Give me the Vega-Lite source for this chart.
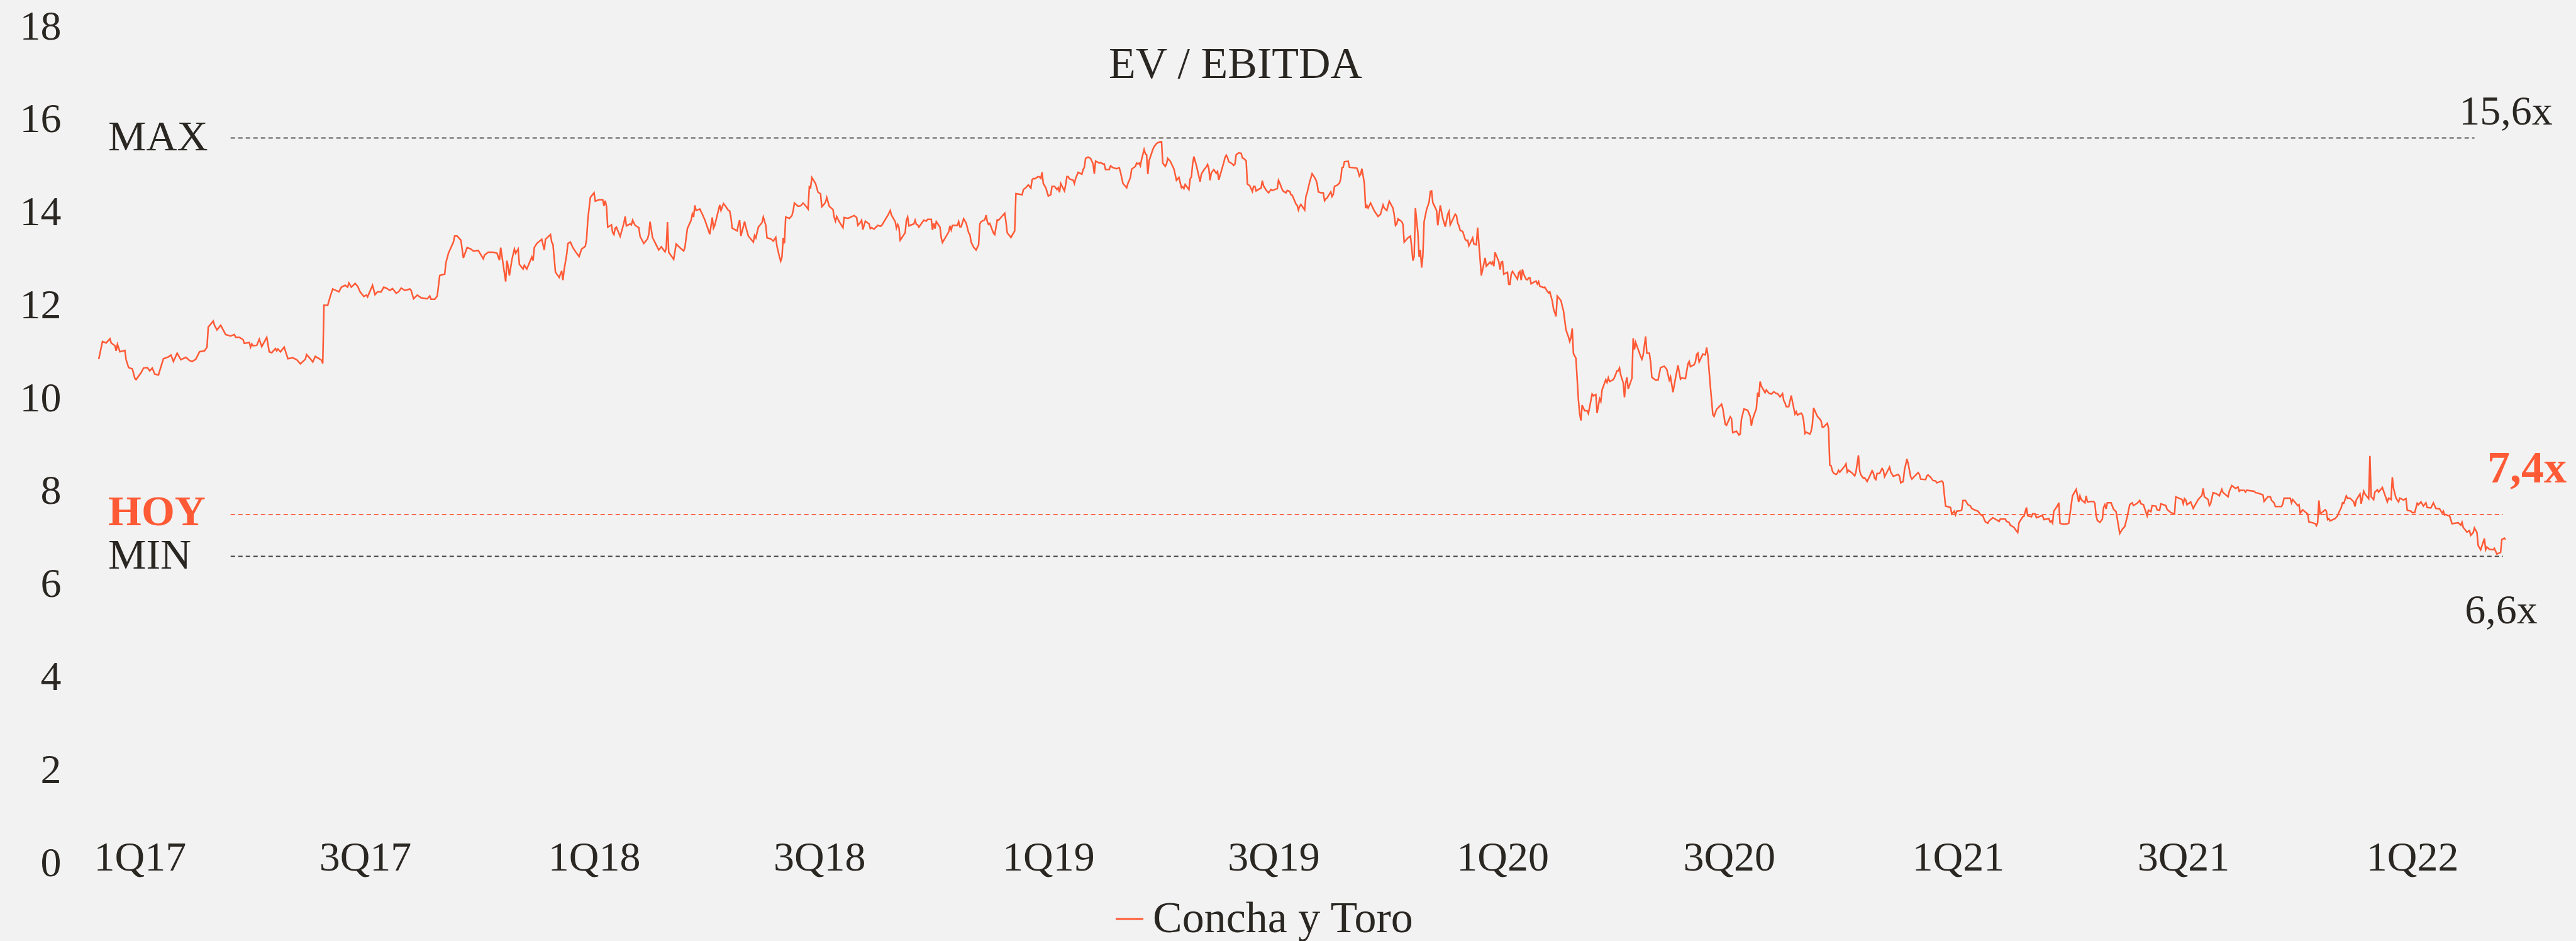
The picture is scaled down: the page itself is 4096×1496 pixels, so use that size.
{
  "$schema": "https://vega.github.io/schema/vega-lite/v6.json",
  "width": 3827,
  "height": 1330,
  "autosize": {"type": "none"},
  "padding": {"left": 157, "top": 42, "right": 112, "bottom": 124},
  "background": "#F2F2F2",
  "config": {"view": {"stroke": null}, "text": {"font": "Liberation Serif"}},
  "title": {"text": "EV / EBITDA", "anchor": "middle", "frame": "group", "baseline": "middle", "offset": -56, "dy": 108, "dx": -106, "fontSize": 70, "font": "Liberation Serif", "fontWeight": "normal", "color": "#2A2723"},
  "datasets": {
    "refs": [
      {"name": "MAX", "tag": "15,6x", "value": 15.6, "start": "2017-03-15", "end": "2022-02-20"},
      {"name": "HOY", "tag": "7,4x", "value": 7.5, "start": "2017-03-15", "end": "2022-03-15"},
      {"name": "MIN", "tag": "6,6x", "value": 6.6, "start": "2017-03-15", "end": "2022-03-15"}
    ],
    "series": [
{"date":"2016-11-29","value":10.84},{"date":"2016-12-02","value":11.22},{"date":"2016-12-05","value":11.19},{"date":"2016-12-08","value":11.28},{"date":"2016-12-09","value":11.19},{"date":"2016-12-12","value":11.13},{"date":"2016-12-13","value":11.02},{"date":"2016-12-14","value":11.16},{"date":"2016-12-16","value":11.00},{"date":"2016-12-20","value":11.03},{"date":"2016-12-21","value":10.83},{"date":"2016-12-23","value":10.66},{"date":"2016-12-26","value":10.63},{"date":"2016-12-28","value":10.43},{"date":"2016-12-29","value":10.40},
{"date":"2017-01-02","value":10.55},{"date":"2017-01-04","value":10.65},{"date":"2017-01-07","value":10.66},{"date":"2017-01-09","value":10.59},{"date":"2017-01-11","value":10.65},{"date":"2017-01-13","value":10.52},{"date":"2017-01-16","value":10.50},{"date":"2017-01-18","value":10.68},{"date":"2017-01-20","value":10.85},{"date":"2017-01-24","value":10.89},{"date":"2017-01-26","value":10.93},{"date":"2017-01-28","value":10.79},{"date":"2017-01-31","value":10.97},
{"date":"2017-02-03","value":10.83},{"date":"2017-02-07","value":10.88},{"date":"2017-02-10","value":10.81},{"date":"2017-02-12","value":10.79},{"date":"2017-02-15","value":10.84},{"date":"2017-02-18","value":11.00},{"date":"2017-02-22","value":11.02},{"date":"2017-02-24","value":11.10},{"date":"2017-02-25","value":11.53},
{"date":"2017-03-01","value":11.66},{"date":"2017-03-02","value":11.57},{"date":"2017-03-04","value":11.47},{"date":"2017-03-07","value":11.57},{"date":"2017-03-11","value":11.37},{"date":"2017-03-15","value":11.34},{"date":"2017-03-18","value":11.37},{"date":"2017-03-19","value":11.31},{"date":"2017-03-22","value":11.31},{"date":"2017-03-25","value":11.26},{"date":"2017-03-26","value":11.18},{"date":"2017-03-30","value":11.20},{"date":"2017-03-31","value":11.10},
{"date":"2017-04-01","value":11.17},{"date":"2017-04-02","value":11.13},{"date":"2017-04-05","value":11.14},{"date":"2017-04-07","value":11.27},{"date":"2017-04-09","value":11.11},{"date":"2017-04-13","value":11.31},{"date":"2017-04-15","value":11.00},{"date":"2017-04-17","value":10.98},{"date":"2017-04-20","value":11.07},{"date":"2017-04-21","value":11.02},{"date":"2017-04-22","value":11.06},{"date":"2017-04-24","value":11.00},{"date":"2017-04-27","value":11.10},{"date":"2017-04-30","value":10.85},
{"date":"2017-05-04","value":10.87},{"date":"2017-05-07","value":10.83},{"date":"2017-05-10","value":10.74},{"date":"2017-05-14","value":10.84},{"date":"2017-05-15","value":10.94},{"date":"2017-05-18","value":10.85},{"date":"2017-05-20","value":10.78},{"date":"2017-05-22","value":10.90},{"date":"2017-05-27","value":10.82},{"date":"2017-05-28","value":10.75},{"date":"2017-05-29","value":12.00},
{"date":"2017-06-01","value":12.00},{"date":"2017-06-03","value":12.19},{"date":"2017-06-05","value":12.35},{"date":"2017-06-10","value":12.29},{"date":"2017-06-12","value":12.39},{"date":"2017-06-15","value":12.43},{"date":"2017-06-17","value":12.39},{"date":"2017-06-18","value":12.48},{"date":"2017-06-20","value":12.39},{"date":"2017-06-23","value":12.47},{"date":"2017-06-25","value":12.41},{"date":"2017-06-27","value":12.29},{"date":"2017-06-30","value":12.19},
{"date":"2017-07-02","value":12.22},{"date":"2017-07-03","value":12.18},{"date":"2017-07-07","value":12.43},{"date":"2017-07-09","value":12.23},{"date":"2017-07-11","value":12.29},{"date":"2017-07-14","value":12.29},{"date":"2017-07-16","value":12.39},{"date":"2017-07-18","value":12.37},{"date":"2017-07-21","value":12.32},{"date":"2017-07-23","value":12.36},{"date":"2017-07-26","value":12.26},{"date":"2017-07-28","value":12.29},{"date":"2017-07-30","value":12.37},
{"date":"2017-08-02","value":12.32},{"date":"2017-08-06","value":12.35},{"date":"2017-08-07","value":12.32},{"date":"2017-08-09","value":12.14},{"date":"2017-08-12","value":12.22},{"date":"2017-08-15","value":12.16},{"date":"2017-08-20","value":12.14},{"date":"2017-08-22","value":12.20},{"date":"2017-08-23","value":12.13},{"date":"2017-08-26","value":12.13},{"date":"2017-08-28","value":12.20},{"date":"2017-08-30","value":12.64},
{"date":"2017-09-03","value":12.67},{"date":"2017-09-04","value":12.92},{"date":"2017-09-06","value":13.12},{"date":"2017-09-10","value":13.36},{"date":"2017-09-11","value":13.49},{"date":"2017-09-13","value":13.49},{"date":"2017-09-16","value":13.40},{"date":"2017-09-18","value":13.02},{"date":"2017-09-21","value":13.24},{"date":"2017-09-24","value":13.21},{"date":"2017-09-26","value":13.17},{"date":"2017-09-30","value":13.18},
{"date":"2017-10-04","value":13.00},{"date":"2017-10-05","value":13.08},{"date":"2017-10-08","value":13.14},{"date":"2017-10-12","value":13.14},{"date":"2017-10-15","value":13.12},{"date":"2017-10-17","value":12.97},{"date":"2017-10-18","value":13.24},{"date":"2017-10-22","value":12.51},{"date":"2017-10-23","value":12.96},{"date":"2017-10-24","value":12.83},{"date":"2017-10-25","value":12.64},{"date":"2017-10-27","value":12.98},{"date":"2017-10-29","value":13.21},{"date":"2017-10-30","value":13.12},
{"date":"2017-11-01","value":13.21},{"date":"2017-11-02","value":12.88},{"date":"2017-11-05","value":12.78},{"date":"2017-11-06","value":12.86},{"date":"2017-11-08","value":12.78},{"date":"2017-11-12","value":13.04},{"date":"2017-11-13","value":12.96},{"date":"2017-11-14","value":13.24},{"date":"2017-11-16","value":13.33},{"date":"2017-11-20","value":13.42},{"date":"2017-11-22","value":13.19},{"date":"2017-11-23","value":13.42},{"date":"2017-11-27","value":13.52},{"date":"2017-11-28","value":13.36},{"date":"2017-11-29","value":13.31},
{"date":"2017-12-01","value":12.71},{"date":"2017-12-04","value":12.60},{"date":"2017-12-06","value":12.74},{"date":"2017-12-07","value":12.54},{"date":"2017-12-08","value":12.77},{"date":"2017-12-10","value":13.09},{"date":"2017-12-11","value":13.33},{"date":"2017-12-13","value":13.36},{"date":"2017-12-15","value":13.24},{"date":"2017-12-18","value":13.12},{"date":"2017-12-20","value":13.05},{"date":"2017-12-22","value":13.21},{"date":"2017-12-25","value":13.27},{"date":"2017-12-26","value":13.42},{"date":"2017-12-27","value":13.84},{"date":"2017-12-29","value":14.32},
{"date":"2018-01-01","value":14.42},{"date":"2018-01-02","value":14.24},{"date":"2018-01-05","value":14.27},{"date":"2018-01-08","value":14.27},{"date":"2018-01-09","value":14.14},{"date":"2018-01-10","value":14.25},{"date":"2018-01-11","value":14.13},{"date":"2018-01-12","value":13.68},{"date":"2018-01-15","value":13.73},{"date":"2018-01-16","value":13.56},{"date":"2018-01-17","value":13.52},{"date":"2018-01-18","value":13.66},{"date":"2018-01-19","value":13.68},{"date":"2018-01-22","value":13.48},{"date":"2018-01-25","value":13.77},{"date":"2018-01-26","value":13.91},{"date":"2018-01-27","value":13.71},{"date":"2018-01-30","value":13.75},{"date":"2018-01-31","value":13.73},
{"date":"2018-02-01","value":13.83},{"date":"2018-02-03","value":13.72},{"date":"2018-02-06","value":13.67},{"date":"2018-02-07","value":13.48},{"date":"2018-02-10","value":13.33},{"date":"2018-02-13","value":13.43},{"date":"2018-02-14","value":13.53},{"date":"2018-02-15","value":13.80},{"date":"2018-02-17","value":13.46},{"date":"2018-02-19","value":13.35},{"date":"2018-02-22","value":13.19},{"date":"2018-02-24","value":13.26},{"date":"2018-02-27","value":13.15},{"date":"2018-02-28","value":13.23},
{"date":"2018-03-01","value":13.79},{"date":"2018-03-02","value":13.14},{"date":"2018-03-06","value":12.99},{"date":"2018-03-08","value":13.32},{"date":"2018-03-11","value":13.24},{"date":"2018-03-14","value":13.17},{"date":"2018-03-15","value":13.24},{"date":"2018-03-17","value":13.65},{"date":"2018-03-20","value":13.83},{"date":"2018-03-21","value":13.97},{"date":"2018-03-22","value":13.90},{"date":"2018-03-23","value":14.15},{"date":"2018-03-24","value":14.04},{"date":"2018-03-27","value":14.07},{"date":"2018-03-29","value":13.96},{"date":"2018-03-31","value":13.84},
{"date":"2018-04-04","value":13.53},{"date":"2018-04-06","value":13.89},{"date":"2018-04-07","value":13.66},{"date":"2018-04-08","value":13.72},{"date":"2018-04-12","value":14.16},{"date":"2018-04-13","value":14.04},{"date":"2018-04-15","value":14.19},{"date":"2018-04-17","value":14.12},{"date":"2018-04-19","value":14.04},{"date":"2018-04-20","value":14.03},{"date":"2018-04-21","value":13.89},{"date":"2018-04-22","value":13.66},{"date":"2018-04-26","value":13.60},{"date":"2018-04-27","value":13.74},{"date":"2018-04-28","value":13.83},{"date":"2018-04-29","value":13.49},
{"date":"2018-05-02","value":13.80},{"date":"2018-05-03","value":13.68},{"date":"2018-05-05","value":13.49},{"date":"2018-05-09","value":13.36},{"date":"2018-05-10","value":13.50},{"date":"2018-05-11","value":13.45},{"date":"2018-05-13","value":13.68},{"date":"2018-05-16","value":13.78},{"date":"2018-05-17","value":13.90},{"date":"2018-05-19","value":13.72},{"date":"2018-05-20","value":13.45},{"date":"2018-05-23","value":13.43},{"date":"2018-05-25","value":13.38},{"date":"2018-05-27","value":13.46},{"date":"2018-05-28","value":13.27},{"date":"2018-05-30","value":13.04},{"date":"2018-05-31","value":12.95},
{"date":"2018-06-01","value":13.04},{"date":"2018-06-02","value":13.45},{"date":"2018-06-03","value":13.33},{"date":"2018-06-04","value":13.90},{"date":"2018-06-07","value":13.87},{"date":"2018-06-09","value":13.93},{"date":"2018-06-10","value":14.03},{"date":"2018-06-11","value":14.20},{"date":"2018-06-14","value":14.13},{"date":"2018-06-16","value":14.14},{"date":"2018-06-18","value":14.20},{"date":"2018-06-20","value":14.14},{"date":"2018-06-22","value":14.07},{"date":"2018-06-23","value":14.55},{"date":"2018-06-24","value":14.53},{"date":"2018-06-25","value":14.75},{"date":"2018-06-28","value":14.62},{"date":"2018-06-30","value":14.43},
{"date":"2018-07-02","value":14.40},{"date":"2018-07-03","value":14.12},{"date":"2018-07-05","value":14.18},{"date":"2018-07-06","value":14.22},{"date":"2018-07-07","value":14.32},{"date":"2018-07-09","value":14.13},{"date":"2018-07-12","value":14.06},{"date":"2018-07-13","value":13.89},{"date":"2018-07-14","value":13.81},{"date":"2018-07-15","value":13.91},{"date":"2018-07-17","value":13.80},{"date":"2018-07-20","value":13.67},{"date":"2018-07-21","value":13.89},{"date":"2018-07-24","value":13.87},{"date":"2018-07-29","value":13.93},{"date":"2018-07-31","value":13.89},
{"date":"2018-08-01","value":13.72},{"date":"2018-08-03","value":13.78},{"date":"2018-08-04","value":13.83},{"date":"2018-08-05","value":13.63},{"date":"2018-08-07","value":13.81},{"date":"2018-08-10","value":13.75},{"date":"2018-08-11","value":13.65},{"date":"2018-08-12","value":13.67},{"date":"2018-08-14","value":13.64},{"date":"2018-08-17","value":13.72},{"date":"2018-08-19","value":13.70},{"date":"2018-08-20","value":13.71},{"date":"2018-08-22","value":13.80},{"date":"2018-08-25","value":13.93},{"date":"2018-08-27","value":14.04},{"date":"2018-08-28","value":13.94},{"date":"2018-08-31","value":13.80},
{"date":"2018-09-01","value":13.66},{"date":"2018-09-02","value":13.74},{"date":"2018-09-03","value":13.68},{"date":"2018-09-04","value":13.40},{"date":"2018-09-08","value":13.56},{"date":"2018-09-09","value":13.83},{"date":"2018-09-10","value":13.90},{"date":"2018-09-11","value":13.71},{"date":"2018-09-15","value":13.75},{"date":"2018-09-16","value":13.83},{"date":"2018-09-17","value":13.74},{"date":"2018-09-18","value":13.73},{"date":"2018-09-19","value":13.68},{"date":"2018-09-23","value":13.83},{"date":"2018-09-25","value":13.81},{"date":"2018-09-26","value":13.85},{"date":"2018-09-29","value":13.85},{"date":"2018-09-30","value":13.62},
{"date":"2018-10-01","value":13.76},{"date":"2018-10-02","value":13.65},{"date":"2018-10-03","value":13.80},{"date":"2018-10-06","value":13.68},{"date":"2018-10-07","value":13.45},{"date":"2018-10-08","value":13.35},{"date":"2018-10-13","value":13.58},{"date":"2018-10-14","value":13.71},{"date":"2018-10-15","value":13.62},{"date":"2018-10-16","value":13.72},{"date":"2018-10-20","value":13.72},{"date":"2018-10-21","value":13.80},{"date":"2018-10-22","value":13.69},{"date":"2018-10-23","value":13.69},{"date":"2018-10-25","value":13.86},{"date":"2018-10-27","value":13.77},{"date":"2018-10-29","value":13.56},{"date":"2018-10-30","value":13.52},{"date":"2018-10-31","value":13.36},
{"date":"2018-11-02","value":13.25},{"date":"2018-11-04","value":13.19},{"date":"2018-11-06","value":13.30},{"date":"2018-11-07","value":13.75},{"date":"2018-11-08","value":13.80},{"date":"2018-11-11","value":13.84},{"date":"2018-11-12","value":13.94},{"date":"2018-11-13","value":13.80},{"date":"2018-11-14","value":13.74},{"date":"2018-11-15","value":13.76},{"date":"2018-11-18","value":13.55},{"date":"2018-11-19","value":13.52},{"date":"2018-11-21","value":13.84},{"date":"2018-11-22","value":13.83},{"date":"2018-11-27","value":13.98},{"date":"2018-11-28","value":13.80},{"date":"2018-11-29","value":13.56},
{"date":"2018-12-02","value":13.46},{"date":"2018-12-05","value":13.60},{"date":"2018-12-06","value":14.40},{"date":"2018-12-11","value":14.38},{"date":"2018-12-12","value":14.49},{"date":"2018-12-14","value":14.53},{"date":"2018-12-16","value":14.59},{"date":"2018-12-18","value":14.52},{"date":"2018-12-19","value":14.70},{"date":"2018-12-20","value":14.73},{"date":"2018-12-21","value":14.72},{"date":"2018-12-24","value":14.77},{"date":"2018-12-25","value":14.76},{"date":"2018-12-26","value":14.73},{"date":"2018-12-27","value":14.86},{"date":"2018-12-28","value":14.62},{"date":"2018-12-30","value":14.53},
{"date":"2019-01-01","value":14.35},{"date":"2019-01-03","value":14.38},{"date":"2019-01-04","value":14.56},{"date":"2019-01-06","value":14.56},{"date":"2019-01-08","value":14.49},{"date":"2019-01-09","value":14.53},{"date":"2019-01-10","value":14.43},{"date":"2019-01-11","value":14.62},{"date":"2019-01-14","value":14.46},{"date":"2019-01-15","value":14.60},{"date":"2019-01-16","value":14.77},{"date":"2019-01-17","value":14.77},{"date":"2019-01-18","value":14.72},{"date":"2019-01-21","value":14.69},{"date":"2019-01-22","value":14.62},{"date":"2019-01-23","value":14.73},{"date":"2019-01-25","value":14.86},{"date":"2019-01-28","value":14.82},{"date":"2019-01-29","value":14.92},{"date":"2019-01-30","value":14.97},{"date":"2019-01-31","value":15.16},
{"date":"2019-02-02","value":15.19},{"date":"2019-02-04","value":15.16},{"date":"2019-02-06","value":15.04},{"date":"2019-02-07","value":14.83},{"date":"2019-02-08","value":15.10},{"date":"2019-02-11","value":15.06},{"date":"2019-02-12","value":15.07},{"date":"2019-02-14","value":15.04},{"date":"2019-02-15","value":15.04},{"date":"2019-02-16","value":14.92},{"date":"2019-02-19","value":14.92},{"date":"2019-02-20","value":15.00},{"date":"2019-02-22","value":14.96},{"date":"2019-02-25","value":14.94},{"date":"2019-02-27","value":14.96},{"date":"2019-02-28","value":14.87},
{"date":"2019-03-02","value":14.62},{"date":"2019-03-05","value":14.53},{"date":"2019-03-06","value":14.62},{"date":"2019-03-08","value":14.75},{"date":"2019-03-09","value":14.93},{"date":"2019-03-12","value":14.99},{"date":"2019-03-13","value":15.06},{"date":"2019-03-14","value":15.04},{"date":"2019-03-15","value":15.06},{"date":"2019-03-16","value":15.00},{"date":"2019-03-17","value":15.14},{"date":"2019-03-19","value":15.35},{"date":"2019-03-20","value":15.26},{"date":"2019-03-21","value":15.24},{"date":"2019-03-22","value":14.82},{"date":"2019-03-23","value":15.11},{"date":"2019-03-26","value":15.35},{"date":"2019-03-27","value":15.41},{"date":"2019-03-29","value":15.48},{"date":"2019-03-31","value":15.51},
{"date":"2019-04-02","value":15.52},{"date":"2019-04-03","value":15.06},{"date":"2019-04-05","value":14.99},{"date":"2019-04-06","value":15.04},{"date":"2019-04-07","value":15.16},{"date":"2019-04-09","value":15.10},{"date":"2019-04-11","value":14.99},{"date":"2019-04-12","value":14.93},{"date":"2019-04-14","value":14.69},{"date":"2019-04-16","value":14.75},{"date":"2019-04-18","value":14.53},{"date":"2019-04-19","value":14.55},{"date":"2019-04-20","value":14.51},{"date":"2019-04-21","value":14.60},{"date":"2019-04-24","value":14.49},{"date":"2019-04-25","value":14.72},{"date":"2019-04-26","value":14.76},{"date":"2019-04-27","value":15.04},{"date":"2019-04-28","value":15.20},{"date":"2019-04-30","value":15.01},
{"date":"2019-05-03","value":14.66},{"date":"2019-05-04","value":14.82},{"date":"2019-05-06","value":14.91},{"date":"2019-05-08","value":14.98},{"date":"2019-05-09","value":15.03},{"date":"2019-05-10","value":14.94},{"date":"2019-05-11","value":14.69},{"date":"2019-05-12","value":14.85},{"date":"2019-05-14","value":14.92},{"date":"2019-05-16","value":14.84},{"date":"2019-05-17","value":14.88},{"date":"2019-05-18","value":14.70},{"date":"2019-05-19","value":14.79},{"date":"2019-05-22","value":15.07},{"date":"2019-05-23","value":15.18},{"date":"2019-05-24","value":15.23},{"date":"2019-05-25","value":15.18},{"date":"2019-05-26","value":15.09},{"date":"2019-05-29","value":15.04},{"date":"2019-05-30","value":15.01},{"date":"2019-05-31","value":15.04},
{"date":"2019-06-01","value":15.24},{"date":"2019-06-03","value":15.28},{"date":"2019-06-05","value":15.27},{"date":"2019-06-06","value":15.17},{"date":"2019-06-07","value":15.16},{"date":"2019-06-09","value":15.11},{"date":"2019-06-10","value":14.61},{"date":"2019-06-12","value":14.57},{"date":"2019-06-14","value":14.45},{"date":"2019-06-15","value":14.56},{"date":"2019-06-16","value":14.56},{"date":"2019-06-17","value":14.46},{"date":"2019-06-20","value":14.51},{"date":"2019-06-21","value":14.52},{"date":"2019-06-22","value":14.68},{"date":"2019-06-23","value":14.57},{"date":"2019-06-25","value":14.48},{"date":"2019-06-27","value":14.42},{"date":"2019-06-29","value":14.49},{"date":"2019-06-30","value":14.47},
{"date":"2019-07-03","value":14.50},{"date":"2019-07-04","value":14.51},{"date":"2019-07-05","value":14.69},{"date":"2019-07-06","value":14.63},{"date":"2019-07-08","value":14.49},{"date":"2019-07-09","value":14.45},{"date":"2019-07-11","value":14.42},{"date":"2019-07-12","value":14.47},{"date":"2019-07-14","value":14.45},{"date":"2019-07-15","value":14.38},{"date":"2019-07-16","value":14.37},{"date":"2019-07-19","value":14.18},{"date":"2019-07-20","value":14.15},{"date":"2019-07-21","value":14.05},{"date":"2019-07-22","value":14.13},{"date":"2019-07-23","value":14.17},{"date":"2019-07-26","value":14.05},{"date":"2019-07-27","value":14.34},{"date":"2019-07-28","value":14.42},{"date":"2019-07-30","value":14.65},
{"date":"2019-08-01","value":14.83},{"date":"2019-08-03","value":14.75},{"date":"2019-08-04","value":14.70},{"date":"2019-08-05","value":14.62},{"date":"2019-08-06","value":14.44},{"date":"2019-08-08","value":14.42},{"date":"2019-08-10","value":14.42},{"date":"2019-08-11","value":14.25},{"date":"2019-08-12","value":14.29},{"date":"2019-08-13","value":14.31},{"date":"2019-08-16","value":14.44},{"date":"2019-08-17","value":14.34},{"date":"2019-08-18","value":14.39},{"date":"2019-08-19","value":14.56},{"date":"2019-08-21","value":14.58},{"date":"2019-08-23","value":14.63},{"date":"2019-08-24","value":14.72},{"date":"2019-08-25","value":14.96},{"date":"2019-08-26","value":14.97},{"date":"2019-08-27","value":15.09},{"date":"2019-08-30","value":15.10},{"date":"2019-08-31","value":14.97},
{"date":"2019-09-06","value":14.95},{"date":"2019-09-07","value":14.88},{"date":"2019-09-08","value":14.78},{"date":"2019-09-09","value":14.82},{"date":"2019-09-10","value":14.94},{"date":"2019-09-12","value":14.62},{"date":"2019-09-13","value":14.09},{"date":"2019-09-14","value":14.15},{"date":"2019-09-15","value":14.09},{"date":"2019-09-17","value":14.20},{"date":"2019-09-20","value":14.03},{"date":"2019-09-21","value":13.99},{"date":"2019-09-23","value":13.91},{"date":"2019-09-25","value":13.96},{"date":"2019-09-27","value":14.16},{"date":"2019-09-28","value":14.09},{"date":"2019-09-30","value":14.04},
{"date":"2019-10-02","value":14.24},{"date":"2019-10-05","value":14.09},{"date":"2019-10-06","value":13.94},{"date":"2019-10-07","value":13.72},{"date":"2019-10-08","value":13.75},{"date":"2019-10-09","value":13.86},{"date":"2019-10-12","value":13.80},{"date":"2019-10-13","value":13.74},{"date":"2019-10-14","value":13.36},{"date":"2019-10-17","value":13.45},{"date":"2019-10-19","value":13.49},{"date":"2019-10-20","value":13.25},{"date":"2019-10-21","value":12.96},{"date":"2019-10-22","value":13.05},{"date":"2019-10-23","value":14.09},{"date":"2019-10-25","value":13.56},{"date":"2019-10-26","value":13.04},{"date":"2019-10-27","value":13.19},{"date":"2019-10-28","value":12.81},{"date":"2019-10-29","value":13.07},{"date":"2019-10-30","value":13.80},
{"date":"2019-11-01","value":14.06},{"date":"2019-11-03","value":14.22},{"date":"2019-11-04","value":14.45},{"date":"2019-11-05","value":14.46},{"date":"2019-11-06","value":14.21},{"date":"2019-11-09","value":14.04},{"date":"2019-11-10","value":13.72},{"date":"2019-11-12","value":14.15},{"date":"2019-11-14","value":13.87},{"date":"2019-11-16","value":13.69},{"date":"2019-11-18","value":13.96},{"date":"2019-11-19","value":14.02},{"date":"2019-11-20","value":13.73},{"date":"2019-11-24","value":13.96},{"date":"2019-11-25","value":13.93},{"date":"2019-11-26","value":13.77},{"date":"2019-11-27","value":13.71},{"date":"2019-11-28","value":13.61},{"date":"2019-11-30","value":13.59},
{"date":"2019-12-02","value":13.42},{"date":"2019-12-03","value":13.39},{"date":"2019-12-04","value":13.40},{"date":"2019-12-05","value":13.28},{"date":"2019-12-08","value":13.45},{"date":"2019-12-09","value":13.32},{"date":"2019-12-11","value":13.30},{"date":"2019-12-12","value":13.67},{"date":"2019-12-15","value":12.64},{"date":"2019-12-18","value":13.02},{"date":"2019-12-19","value":12.84},{"date":"2019-12-22","value":12.93},{"date":"2019-12-23","value":12.89},{"date":"2019-12-24","value":12.93},{"date":"2019-12-25","value":12.84},{"date":"2019-12-26","value":13.14},{"date":"2019-12-29","value":12.94},{"date":"2019-12-30","value":12.77},{"date":"2019-12-31","value":12.93},
{"date":"2020-01-01","value":12.94},{"date":"2020-01-02","value":12.67},{"date":"2020-01-05","value":12.71},{"date":"2020-01-06","value":12.45},{"date":"2020-01-07","value":12.45},{"date":"2020-01-08","value":12.67},{"date":"2020-01-09","value":12.73},{"date":"2020-01-13","value":12.56},{"date":"2020-01-14","value":12.70},{"date":"2020-01-15","value":12.73},{"date":"2020-01-16","value":12.54},{"date":"2020-01-17","value":12.77},{"date":"2020-01-18","value":12.67},{"date":"2020-01-20","value":12.56},{"date":"2020-01-21","value":12.55},{"date":"2020-01-22","value":12.59},{"date":"2020-01-23","value":12.59},{"date":"2020-01-24","value":12.46},{"date":"2020-01-27","value":12.51},{"date":"2020-01-28","value":12.52},{"date":"2020-01-29","value":12.46},{"date":"2020-01-30","value":12.51},{"date":"2020-01-31","value":12.41},
{"date":"2020-02-03","value":12.38},{"date":"2020-02-04","value":12.39},{"date":"2020-02-06","value":12.30},{"date":"2020-02-07","value":12.27},{"date":"2020-02-08","value":12.29},{"date":"2020-02-10","value":12.09},{"date":"2020-02-11","value":11.92},{"date":"2020-02-13","value":11.76},{"date":"2020-02-14","value":12.20},{"date":"2020-02-17","value":12.10},{"date":"2020-02-18","value":11.98},{"date":"2020-02-19","value":11.88},{"date":"2020-02-21","value":11.47},{"date":"2020-02-23","value":11.32},{"date":"2020-02-24","value":11.22},{"date":"2020-02-25","value":11.30},{"date":"2020-02-26","value":11.50},{"date":"2020-02-27","value":10.96},{"date":"2020-02-29","value":10.86},
{"date":"2020-03-02","value":9.96},{"date":"2020-03-03","value":9.67},{"date":"2020-03-04","value":9.52},{"date":"2020-03-05","value":9.85},{"date":"2020-03-07","value":9.73},{"date":"2020-03-09","value":9.73},{"date":"2020-03-10","value":9.67},{"date":"2020-03-13","value":10.09},{"date":"2020-03-14","value":10.05},{"date":"2020-03-16","value":10.08},{"date":"2020-03-17","value":9.68},{"date":"2020-03-19","value":9.99},{"date":"2020-03-20","value":9.93},{"date":"2020-03-21","value":10.18},{"date":"2020-03-24","value":10.40},{"date":"2020-03-25","value":10.34},{"date":"2020-03-26","value":10.44},{"date":"2020-03-27","value":10.36},{"date":"2020-03-30","value":10.40},{"date":"2020-03-31","value":10.45},
{"date":"2020-04-02","value":10.59},{"date":"2020-04-03","value":10.59},{"date":"2020-04-04","value":10.65},{"date":"2020-04-05","value":10.50},{"date":"2020-04-07","value":10.33},{"date":"2020-04-08","value":10.02},{"date":"2020-04-09","value":10.33},{"date":"2020-04-10","value":10.45},{"date":"2020-04-11","value":10.20},{"date":"2020-04-14","value":10.43},{"date":"2020-04-15","value":11.29},{"date":"2020-04-16","value":11.05},{"date":"2020-04-17","value":11.20},{"date":"2020-04-21","value":10.90},{"date":"2020-04-22","value":10.84},{"date":"2020-04-23","value":10.93},{"date":"2020-04-25","value":11.33},{"date":"2020-04-26","value":10.97},{"date":"2020-04-28","value":10.97},{"date":"2020-04-29","value":10.78},{"date":"2020-04-30","value":10.45},
{"date":"2020-05-03","value":10.39},{"date":"2020-05-05","value":10.39},{"date":"2020-05-07","value":10.66},{"date":"2020-05-10","value":10.69},{"date":"2020-05-12","value":10.62},{"date":"2020-05-14","value":10.39},{"date":"2020-05-15","value":10.46},{"date":"2020-05-17","value":10.13},{"date":"2020-05-19","value":10.43},{"date":"2020-05-21","value":10.71},{"date":"2020-05-23","value":10.41},{"date":"2020-05-24","value":10.44},{"date":"2020-05-27","value":10.42},{"date":"2020-05-28","value":10.58},{"date":"2020-05-29","value":10.74},{"date":"2020-05-30","value":10.79},{"date":"2020-05-31","value":10.68},
{"date":"2020-06-03","value":10.72},{"date":"2020-06-04","value":10.78},{"date":"2020-06-05","value":10.94},{"date":"2020-06-06","value":10.97},{"date":"2020-06-07","value":10.78},{"date":"2020-06-10","value":10.95},{"date":"2020-06-12","value":10.93},{"date":"2020-06-13","value":11.09},{"date":"2020-06-14","value":10.93},{"date":"2020-06-16","value":10.26},{"date":"2020-06-18","value":9.65},{"date":"2020-06-19","value":9.61},{"date":"2020-06-21","value":9.76},{"date":"2020-06-25","value":9.87},{"date":"2020-06-26","value":9.78},{"date":"2020-06-28","value":9.44},{"date":"2020-06-29","value":9.42},
{"date":"2020-07-02","value":9.60},{"date":"2020-07-03","value":9.56},{"date":"2020-07-04","value":9.26},{"date":"2020-07-07","value":9.29},{"date":"2020-07-09","value":9.21},{"date":"2020-07-10","value":9.23},{"date":"2020-07-11","value":9.55},{"date":"2020-07-13","value":9.77},{"date":"2020-07-16","value":9.74},{"date":"2020-07-18","value":9.61},{"date":"2020-07-19","value":9.41},{"date":"2020-07-20","value":9.55},{"date":"2020-07-23","value":9.78},{"date":"2020-07-24","value":10.12},{"date":"2020-07-25","value":10.03},{"date":"2020-07-26","value":10.36},{"date":"2020-07-27","value":10.26},{"date":"2020-07-30","value":10.12},{"date":"2020-07-31","value":10.18},
{"date":"2020-08-02","value":10.11},{"date":"2020-08-04","value":10.09},{"date":"2020-08-06","value":10.14},{"date":"2020-08-08","value":10.10},{"date":"2020-08-09","value":10.10},{"date":"2020-08-11","value":10.03},{"date":"2020-08-13","value":10.10},{"date":"2020-08-14","value":9.95},{"date":"2020-08-15","value":9.90},{"date":"2020-08-16","value":9.82},{"date":"2020-08-18","value":9.82},{"date":"2020-08-20","value":10.06},{"date":"2020-08-22","value":9.79},{"date":"2020-08-23","value":9.66},{"date":"2020-08-24","value":9.71},{"date":"2020-08-25","value":9.64},{"date":"2020-08-28","value":9.68},{"date":"2020-08-29","value":9.64},{"date":"2020-08-30","value":9.51},{"date":"2020-08-31","value":9.24},
{"date":"2020-09-01","value":9.27},{"date":"2020-09-04","value":9.23},{"date":"2020-09-05","value":9.29},{"date":"2020-09-06","value":9.44},{"date":"2020-09-07","value":9.79},{"date":"2020-09-10","value":9.61},{"date":"2020-09-12","value":9.55},{"date":"2020-09-13","value":9.51},{"date":"2020-09-14","value":9.38},{"date":"2020-09-15","value":9.38},{"date":"2020-09-18","value":9.46},{"date":"2020-09-19","value":9.35},{"date":"2020-09-20","value":8.56},{"date":"2020-09-21","value":8.55},{"date":"2020-09-22","value":8.44},{"date":"2020-09-23","value":8.39},{"date":"2020-09-25","value":8.36},{"date":"2020-09-26","value":8.38},{"date":"2020-09-27","value":8.45},{"date":"2020-09-28","value":8.41},
{"date":"2020-10-02","value":8.54},{"date":"2020-10-03","value":8.59},{"date":"2020-10-04","value":8.41},{"date":"2020-10-05","value":8.45},{"date":"2020-10-08","value":8.39},{"date":"2020-10-10","value":8.33},{"date":"2020-10-11","value":8.41},{"date":"2020-10-13","value":8.77},{"date":"2020-10-14","value":8.44},{"date":"2020-10-15","value":8.35},{"date":"2020-10-17","value":8.28},{"date":"2020-10-18","value":8.29},{"date":"2020-10-20","value":8.21},{"date":"2020-10-22","value":8.32},{"date":"2020-10-24","value":8.44},{"date":"2020-10-25","value":8.39},{"date":"2020-10-26","value":8.28},{"date":"2020-10-27","value":8.25},{"date":"2020-10-28","value":8.38},{"date":"2020-10-30","value":8.38},
{"date":"2020-11-01","value":8.49},{"date":"2020-11-02","value":8.45},{"date":"2020-11-03","value":8.31},{"date":"2020-11-07","value":8.52},{"date":"2020-11-08","value":8.41},{"date":"2020-11-10","value":8.32},{"date":"2020-11-14","value":8.36},{"date":"2020-11-15","value":8.32},{"date":"2020-11-16","value":8.18},{"date":"2020-11-18","value":8.21},{"date":"2020-11-19","value":8.46},{"date":"2020-11-21","value":8.69},{"date":"2020-11-22","value":8.59},{"date":"2020-11-24","value":8.31},{"date":"2020-11-25","value":8.26},{"date":"2020-11-27","value":8.32},{"date":"2020-11-30","value":8.40},
{"date":"2020-12-01","value":8.36},{"date":"2020-12-02","value":8.26},{"date":"2020-12-06","value":8.25},{"date":"2020-12-07","value":8.33},{"date":"2020-12-08","value":8.35},{"date":"2020-12-10","value":8.30},{"date":"2020-12-12","value":8.23},{"date":"2020-12-14","value":8.22},{"date":"2020-12-15","value":8.18},{"date":"2020-12-18","value":8.21},{"date":"2020-12-19","value":8.22},{"date":"2020-12-20","value":8.19},{"date":"2020-12-22","value":7.68},{"date":"2020-12-26","value":7.65},{"date":"2020-12-27","value":7.51},{"date":"2020-12-29","value":7.57},{"date":"2020-12-30","value":7.49},{"date":"2020-12-31","value":7.57},
{"date":"2021-01-03","value":7.58},{"date":"2021-01-04","value":7.60},{"date":"2021-01-05","value":7.80},{"date":"2021-01-07","value":7.80},{"date":"2021-01-09","value":7.71},{"date":"2021-01-11","value":7.68},{"date":"2021-01-12","value":7.63},{"date":"2021-01-14","value":7.60},{"date":"2021-01-15","value":7.59},{"date":"2021-01-17","value":7.57},{"date":"2021-01-19","value":7.50},{"date":"2021-01-21","value":7.47},{"date":"2021-01-22","value":7.40},{"date":"2021-01-23","value":7.34},{"date":"2021-01-25","value":7.31},{"date":"2021-01-26","value":7.36},{"date":"2021-01-29","value":7.43},{"date":"2021-01-31","value":7.40},
{"date":"2021-02-03","value":7.35},{"date":"2021-02-04","value":7.40},{"date":"2021-02-08","value":7.40},{"date":"2021-02-09","value":7.35},{"date":"2021-02-11","value":7.33},{"date":"2021-02-12","value":7.27},{"date":"2021-02-15","value":7.22},{"date":"2021-02-16","value":7.18},{"date":"2021-02-18","value":7.11},{"date":"2021-02-19","value":7.32},{"date":"2021-02-22","value":7.45},{"date":"2021-02-23","value":7.46},{"date":"2021-02-25","value":7.65},{"date":"2021-02-26","value":7.47},
{"date":"2021-03-01","value":7.45},{"date":"2021-03-02","value":7.51},{"date":"2021-03-04","value":7.51},{"date":"2021-03-05","value":7.43},{"date":"2021-03-09","value":7.47},{"date":"2021-03-10","value":7.47},{"date":"2021-03-11","value":7.39},{"date":"2021-03-13","value":7.40},{"date":"2021-03-15","value":7.41},{"date":"2021-03-16","value":7.34},{"date":"2021-03-17","value":7.36},{"date":"2021-03-18","value":7.31},{"date":"2021-03-19","value":7.57},{"date":"2021-03-22","value":7.69},{"date":"2021-03-23","value":7.75},{"date":"2021-03-24","value":7.31},{"date":"2021-03-26","value":7.29},{"date":"2021-03-29","value":7.29},{"date":"2021-03-31","value":7.31},
{"date":"2021-04-03","value":7.90},{"date":"2021-04-06","value":8.04},{"date":"2021-04-08","value":7.77},{"date":"2021-04-09","value":7.90},{"date":"2021-04-10","value":7.82},{"date":"2021-04-13","value":7.75},{"date":"2021-04-14","value":7.90},{"date":"2021-04-15","value":7.77},{"date":"2021-04-18","value":7.78},{"date":"2021-04-20","value":7.78},{"date":"2021-04-21","value":7.74},{"date":"2021-04-22","value":7.47},{"date":"2021-04-23","value":7.37},{"date":"2021-04-25","value":7.33},{"date":"2021-04-27","value":7.40},{"date":"2021-04-28","value":7.65},{"date":"2021-04-29","value":7.71},{"date":"2021-04-30","value":7.62},
{"date":"2021-05-01","value":7.75},{"date":"2021-05-04","value":7.75},{"date":"2021-05-06","value":7.61},{"date":"2021-05-08","value":7.56},{"date":"2021-05-11","value":7.09},{"date":"2021-05-13","value":7.18},{"date":"2021-05-15","value":7.24},{"date":"2021-05-17","value":7.45},{"date":"2021-05-19","value":7.71},{"date":"2021-05-21","value":7.75},{"date":"2021-05-22","value":7.69},{"date":"2021-05-25","value":7.74},{"date":"2021-05-27","value":7.80},{"date":"2021-05-28","value":7.73},{"date":"2021-05-30","value":7.71},
{"date":"2021-06-02","value":7.47},{"date":"2021-06-03","value":7.59},{"date":"2021-06-05","value":7.56},{"date":"2021-06-06","value":7.69},{"date":"2021-06-09","value":7.68},{"date":"2021-06-10","value":7.60},{"date":"2021-06-12","value":7.59},{"date":"2021-06-13","value":7.73},{"date":"2021-06-17","value":7.69},{"date":"2021-06-18","value":7.61},{"date":"2021-06-21","value":7.54},{"date":"2021-06-24","value":7.51},{"date":"2021-06-25","value":7.88},{"date":"2021-06-30","value":7.82},
{"date":"2021-07-01","value":7.73},{"date":"2021-07-02","value":7.84},{"date":"2021-07-03","value":7.81},{"date":"2021-07-04","value":7.71},{"date":"2021-07-07","value":7.77},{"date":"2021-07-09","value":7.63},{"date":"2021-07-13","value":7.82},{"date":"2021-07-15","value":7.88},{"date":"2021-07-16","value":7.91},{"date":"2021-07-17","value":8.06},{"date":"2021-07-18","value":7.88},{"date":"2021-07-21","value":7.82},{"date":"2021-07-22","value":7.69},{"date":"2021-07-23","value":7.73},{"date":"2021-07-25","value":7.97},{"date":"2021-07-28","value":7.94},{"date":"2021-07-30","value":7.90},
{"date":"2021-08-01","value":8.04},{"date":"2021-08-02","value":7.97},{"date":"2021-08-06","value":7.88},{"date":"2021-08-07","value":8.00},{"date":"2021-08-09","value":8.12},{"date":"2021-08-12","value":8.06},{"date":"2021-08-14","value":8.09},{"date":"2021-08-15","value":8.00},{"date":"2021-08-16","value":8.02},{"date":"2021-08-19","value":8.02},{"date":"2021-08-20","value":7.98},{"date":"2021-08-21","value":8.02},{"date":"2021-08-27","value":8.00},{"date":"2021-08-28","value":7.97},{"date":"2021-08-30","value":7.96},
{"date":"2021-09-03","value":7.92},{"date":"2021-09-04","value":7.78},{"date":"2021-09-07","value":7.88},{"date":"2021-09-09","value":7.88},{"date":"2021-09-10","value":7.80},{"date":"2021-09-12","value":7.75},{"date":"2021-09-13","value":7.67},{"date":"2021-09-18","value":7.67},{"date":"2021-09-19","value":7.73},{"date":"2021-09-20","value":7.85},{"date":"2021-09-25","value":7.85},{"date":"2021-09-26","value":7.75},{"date":"2021-09-27","value":7.82},
{"date":"2021-10-01","value":7.69},{"date":"2021-10-02","value":7.71},{"date":"2021-10-03","value":7.53},{"date":"2021-10-05","value":7.60},{"date":"2021-10-09","value":7.51},{"date":"2021-10-10","value":7.34},{"date":"2021-10-13","value":7.32},{"date":"2021-10-15","value":7.30},{"date":"2021-10-16","value":7.26},{"date":"2021-10-17","value":7.32},{"date":"2021-10-18","value":7.80},{"date":"2021-10-19","value":7.51},{"date":"2021-10-23","value":7.60},{"date":"2021-10-24","value":7.57},{"date":"2021-10-25","value":7.39},{"date":"2021-10-26","value":7.41},{"date":"2021-10-27","value":7.36},{"date":"2021-10-31","value":7.41},
{"date":"2021-11-02","value":7.47},{"date":"2021-11-03","value":7.54},{"date":"2021-11-05","value":7.65},{"date":"2021-11-06","value":7.75},{"date":"2021-11-07","value":7.74},{"date":"2021-11-09","value":7.90},{"date":"2021-11-10","value":7.85},{"date":"2021-11-12","value":7.85},{"date":"2021-11-15","value":7.77},{"date":"2021-11-16","value":7.67},{"date":"2021-11-17","value":7.81},{"date":"2021-11-20","value":7.94},{"date":"2021-11-21","value":7.73},{"date":"2021-11-23","value":8.00},{"date":"2021-11-24","value":7.94},{"date":"2021-11-27","value":7.84},{"date":"2021-11-28","value":8.76},{"date":"2021-11-29","value":7.88},
{"date":"2021-12-01","value":7.82},{"date":"2021-12-02","value":7.98},{"date":"2021-12-04","value":8.03},{"date":"2021-12-05","value":7.98},{"date":"2021-12-08","value":8.08},{"date":"2021-12-12","value":7.77},{"date":"2021-12-13","value":7.85},{"date":"2021-12-15","value":7.82},{"date":"2021-12-16","value":8.30},{"date":"2021-12-17","value":8.06},{"date":"2021-12-19","value":7.85},{"date":"2021-12-21","value":7.77},{"date":"2021-12-22","value":7.85},{"date":"2021-12-25","value":7.81},{"date":"2021-12-27","value":7.84},{"date":"2021-12-28","value":7.59},{"date":"2021-12-31","value":7.57},
{"date":"2022-01-01","value":7.54},{"date":"2022-01-03","value":7.54},{"date":"2022-01-05","value":7.74},{"date":"2022-01-06","value":7.71},{"date":"2022-01-08","value":7.77},{"date":"2022-01-10","value":7.68},{"date":"2022-01-12","value":7.75},{"date":"2022-01-13","value":7.65},{"date":"2022-01-16","value":7.64},{"date":"2022-01-18","value":7.75},{"date":"2022-01-20","value":7.63},{"date":"2022-01-23","value":7.62},{"date":"2022-01-25","value":7.53},{"date":"2022-01-26","value":7.57},{"date":"2022-01-27","value":7.49},{"date":"2022-01-28","value":7.50},{"date":"2022-01-30","value":7.47},{"date":"2022-01-31","value":7.47},
{"date":"2022-02-02","value":7.30},{"date":"2022-02-07","value":7.32},{"date":"2022-02-09","value":7.27},{"date":"2022-02-10","value":7.33},{"date":"2022-02-11","value":7.22},{"date":"2022-02-14","value":7.12},{"date":"2022-02-16","value":7.15},{"date":"2022-02-17","value":7.05},{"date":"2022-02-19","value":7.11},{"date":"2022-02-20","value":7.21},{"date":"2022-02-22","value":7.11},{"date":"2022-02-23","value":6.83},{"date":"2022-02-25","value":6.74},{"date":"2022-02-28","value":6.98},
{"date":"2022-03-01","value":6.74},{"date":"2022-03-02","value":6.80},{"date":"2022-03-04","value":6.75},{"date":"2022-03-07","value":6.74},{"date":"2022-03-08","value":6.77},{"date":"2022-03-10","value":6.65},{"date":"2022-03-13","value":6.68},{"date":"2022-03-14","value":6.96},{"date":"2022-03-16","value":6.99},{"date":"2022-03-17","value":6.96}
    ]
  },
  "layer": [
    {
      "data": {"name": "series"},
      "mark": {"type": "line", "strokeWidth": 2.5, "interpolate": "linear"},
      "encoding": {
        "x": {"field": "date", "type": "temporal", "title": null,
          "scale": {"type": "utc", "domain": [{"year": 2016, "month": 11, "date": 29, "utc": true}, {"year": 2022, "month": 3, "date": 17, "utc": true}]},
          "axis": {"values": [
            {"year": 2017, "month": 1, "date": 1, "utc": true}, {"year": 2017, "month": 7, "date": 1, "utc": true},
            {"year": 2018, "month": 1, "date": 1, "utc": true}, {"year": 2018, "month": 7, "date": 1, "utc": true},
            {"year": 2019, "month": 1, "date": 1, "utc": true}, {"year": 2019, "month": 7, "date": 1, "utc": true},
            {"year": 2020, "month": 1, "date": 1, "utc": true}, {"year": 2020, "month": 7, "date": 1, "utc": true},
            {"year": 2021, "month": 1, "date": 1, "utc": true}, {"year": 2021, "month": 7, "date": 1, "utc": true},
            {"year": 2022, "month": 1, "date": 1, "utc": true}],
            "labelExpr": "utcFormat(datum.value, '%qQ%y')",
            "grid": false, "domain": false, "ticks": false, "tickSize": 0,
            "labelPadding": 11, "labelBaseline": "alphabetic", "labelAngle": 0,
            "labelFontSize": 66, "labelFont": "Liberation Serif", "labelColor": "#2A2723",
            "labelOverlap": false, "labelFlush": false}},
        "y": {"field": "value", "type": "quantitative", "title": null,
          "scale": {"domain": [0, 18], "nice": false, "zero": true},
          "axis": {"values": [0, 2, 4, 6, 8, 10, 12, 14, 16, 18], "format": "d", "grid": false, "domain": false, "ticks": false, "tickSize": 0,
            "labelPadding": 60, "labelFontSize": 66, "labelFont": "Liberation Serif", "labelColor": "#2A2723"}},
        "color": {"datum": "Concha y Toro", "type": "nominal",
          "scale": {"range": ["#FF5A36"]},
          "legend": {"title": null, "orient": "none", "legendX": 1604, "legendY": 1384, "padding": 0,
            "symbolType": "stroke", "symbolSize": 1936, "symbolStrokeWidth": 3, "labelLimit": 0,
            "labelFont": "Liberation Serif", "labelFontSize": 70, "labelColor": "#2A2723", "labelOffset": 2}}
      }
    },
    {
      "data": {"name": "refs"},
      "transform": [{"filter": "datum.name !== 'HOY'"}],
      "mark": {"type": "rule", "strokeDash": [7, 5], "strokeWidth": 1.8, "color": "#3A3835"},
      "encoding": {
        "x": {"field": "start", "type": "temporal", "title": null, "scale": {"type": "utc"}},
        "x2": {"field": "end"},
        "y": {"field": "value", "type": "quantitative", "title": null}
      }
    },
    {
      "data": {"name": "refs"},
      "transform": [{"filter": "datum.name === 'HOY'"}],
      "mark": {"type": "rule", "strokeDash": [7, 5], "strokeWidth": 1.8, "color": "#FF5A36"},
      "encoding": {
        "x": {"field": "start", "type": "temporal", "title": null, "scale": {"type": "utc"}},
        "x2": {"field": "end"},
        "y": {"field": "value", "type": "quantitative", "title": null}
      }
    },
    {
      "data": {"name": "refs"},
      "transform": [{"filter": "datum.name !== 'HOY'"}],
      "mark": {"type": "text", "align": "left", "baseline": "middle", "dx": 15, "fontSize": 68, "font": "Liberation Serif", "color": "#2A2723"},
      "encoding": {
        "x": {"datum": {"year": 2016, "month": 11, "date": 29, "utc": true}, "type": "temporal", "scale": {"type": "utc"}},
        "y": {"field": "value", "type": "quantitative", "title": null},
        "text": {"field": "name"}
      }
    },
    {
      "data": {"name": "refs"},
      "transform": [{"filter": "datum.name === 'HOY'"}],
      "mark": {"type": "text", "align": "left", "baseline": "middle", "dx": 15, "dy": -3, "fontSize": 68, "fontWeight": "bold", "font": "Liberation Serif", "color": "#FF5A36"},
      "encoding": {
        "x": {"datum": {"year": 2016, "month": 11, "date": 29, "utc": true}, "type": "temporal", "scale": {"type": "utc"}},
        "y": {"field": "value", "type": "quantitative", "title": null},
        "text": {"field": "name"}
      }
    },
    {
      "data": {"name": "refs"},
      "transform": [{"filter": "datum.name === 'MAX'"}],
      "mark": {"type": "text", "align": "center", "baseline": "alphabetic", "dx": 50, "dy": -21, "fontSize": 66, "font": "Liberation Serif", "color": "#2A2723"},
      "encoding": {
        "x": {"field": "end", "type": "temporal", "title": null, "scale": {"type": "utc"}},
        "y": {"field": "value", "type": "quantitative", "title": null},
        "text": {"field": "tag"}
      }
    },
    {
      "data": {"name": "refs"},
      "transform": [{"filter": "datum.name === 'HOY'"}],
      "mark": {"type": "text", "align": "center", "baseline": "alphabetic", "dx": 38, "dy": -51, "fontSize": 72, "fontWeight": "bold", "font": "Liberation Serif", "color": "#FF5A36"},
      "encoding": {
        "x": {"field": "end", "type": "temporal", "title": null, "scale": {"type": "utc"}},
        "y": {"field": "value", "type": "quantitative", "title": null},
        "text": {"field": "tag"}
      }
    },
    {
      "data": {"name": "refs"},
      "transform": [{"filter": "datum.name === 'MIN'"}],
      "mark": {"type": "text", "align": "center", "baseline": "alphabetic", "dx": -3, "dy": 107, "fontSize": 66, "font": "Liberation Serif", "color": "#2A2723"},
      "encoding": {
        "x": {"field": "end", "type": "temporal", "title": null, "scale": {"type": "utc"}},
        "y": {"field": "value", "type": "quantitative", "title": null},
        "text": {"field": "tag"}
      }
    }
  ]
}
